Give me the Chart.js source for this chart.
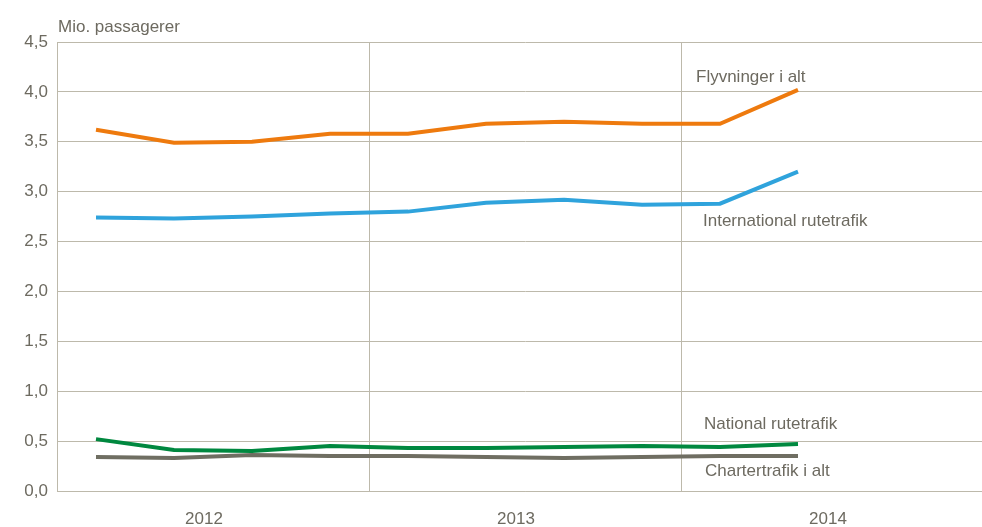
<!DOCTYPE html>
<html>
<head>
<meta charset="utf-8">
<script src="https://cdn.jsdelivr.net/npm/chart.js@4"></script>
<style>
  html, body { margin: 0; padding: 0; background: #fff; overflow: hidden; }
  /* plot area runs past the right edge of the picture, like the original */
  #wrap { width: 993px; height: 527px; }
</style>
</head>
<body>
<div id="wrap"><canvas id="trafficChart"></canvas></div>
<script>
    // quarters 2012 Q1 .. 2014 Q4 (data up to 2014 Q2)
    const quarters = ['2012K1', '2012K2', '2012K3', '2012K4', '2013K1', '2013K2', '2013K3', '2013K4', '2014K1', '2014K2', '2014K3', '2014K4'];
    const years = ['2012', '2013', '2014'];
    const yTicks = [0, 0.5, 1, 1.5, 2, 2.5, 3, 3.5, 4, 4.5];

    const flyvninger = [3.62, 3.49, 3.50, 3.58, 3.58, 3.68, 3.70, 3.68, 3.68, 4.02];
    const international = [2.74, 2.73, 2.75, 2.78, 2.80, 2.89, 2.92, 2.87, 2.88, 3.20];
    const national = [0.52, 0.41, 0.40, 0.45, 0.43, 0.43, 0.44, 0.45, 0.44, 0.47];
    const charter = [0.34, 0.33, 0.36, 0.35, 0.35, 0.34, 0.33, 0.34, 0.35, 0.35];

    const seriesNames = ['Flyvninger i alt', 'International rutetrafik', 'National rutetrafik', 'Chartertrafik i alt'];
    const seriesColors = ['#ee7a0e', '#2fa3dc', '#00883f', '#6f6e62'];

    const textColor = '#6d6a60';
    const gridColor = '#bdb9ab';
    const fontFamily = '"Liberation Sans Narrow", "Arial Narrow", "Liberation Sans", sans-serif';

    // label offsets relative to the last point of each series
    const labelOffsets = [[-102, -13], [-95, 50], [-94, -20], [-93, 15]];

    const endLabels = {
        id: 'endLabels',
        afterDatasetsDraw(chart) {
            const ctx = chart.ctx;
            ctx.save();
            ctx.fillStyle = textColor;
            ctx.font = '17px ' + fontFamily;
            ctx.textBaseline = 'middle';
            ctx.textAlign = 'left';
            chart.data.datasets.forEach(function(ds, i) {
                const meta = chart.getDatasetMeta(i);
                const last = meta.data[meta.data.length - 1];
                ctx.fillText(ds.label, last.x + labelOffsets[i][0], last.y + labelOffsets[i][1]);
            });
            // unit title
            ctx.textBaseline = 'alphabetic';
            ctx.fillText('Mio. passagerer', chart.chartArea.left + 1, 32);
            ctx.restore();
        }
    };

    new Chart(document.getElementById('trafficChart'), {
        type: 'line',
        data: {
            labels: quarters,
            datasets: [flyvninger, international, national, charter].map(function(values, i) {
                return {
                    label: seriesNames[i],
                    data: values,
                    borderColor: seriesColors[i],
                    backgroundColor: seriesColors[i],
                    borderWidth: 4,
                    pointRadius: 0,
                    tension: 0,
                    xAxisID: 'x'
                };
            })
        },
        options: {
            responsive: true,
            maintainAspectRatio: false,
            animation: false,
            layout: { padding: { top: 42, right: 0, left: 0, bottom: 0 } },
            plugins: {
                legend: { display: false },
                tooltip: { enabled: false }
            },
            scales: {
                x: {
                    type: 'category',
                    labels: quarters,
                    offset: true,
                    display: false
                },
                years: {
                    type: 'category',
                    labels: years,
                    position: 'bottom',
                    offset: true,
                    grid: { offset: true, color: gridColor, drawTicks: false, lineWidth: 1 },
                    border: { color: gridColor },
                    ticks: { color: textColor, font: { family: fontFamily, size: 17 }, padding: 18, labelOffset: -9 },
                    afterFit: function(scale) { scale.height = 36; }
                },
                y: {
                    min: 0,
                    max: 4.5,
                    afterBuildTicks: function(scale) {
                        scale.ticks = yTicks.map(function(v) { return { value: v }; });
                    },
                    grid: { color: gridColor, drawTicks: false, lineWidth: 1 },
                    border: { color: gridColor },
                    ticks: {
                        color: textColor,
                        font: { family: fontFamily, size: 17 },
                        padding: 9,
                        callback: function(v) { return v.toFixed(1).replace('.', ','); }
                    },
                    afterFit: function(scale) { scale.width = 57; }
                }
            }
        },
        plugins: [endLabels]
    });
</script>
</body>
</html>
